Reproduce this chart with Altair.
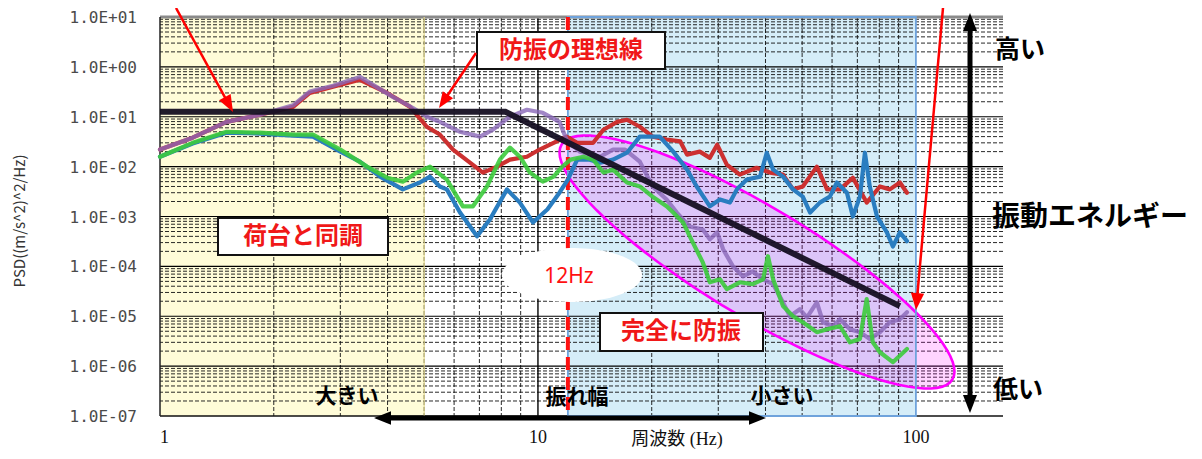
import altair as alt
import pandas as pd
import numpy as np

# ---------------- data ----------------
red_f = [1, 1.22, 1.50, 1.84, 2.25, 2.49, 2.87, 3.38, 3.99, 4.59,
         5.08, 5.5, 5.96, 6.61, 7.15, 7.79, 8.43, 9.35, 10.1, 11.0,
         11.9, 12.7, 14.0, 14.9, 16.2, 17.2, 18.6, 20.1, 21.9, 23.8,
         24.8, 26.8, 28.5, 29.8, 31.6, 34.2, 37.9, 41.1, 44.5, 47.3,
         50.2, 54.7, 58.2, 63.0, 68.1, 74.1, 80.3, 85.3, 90.7, 94.7]
red_p = [0.022, 0.038, 0.079, 0.11, 0.158, 0.30, 0.40, 0.55, 0.30, 0.158,
         0.063, 0.044, 0.022, 0.012, 0.0076, 0.010, 0.0138, 0.0158, 0.022, 0.030,
         0.040, 0.030, 0.030, 0.055, 0.079, 0.087, 0.063, 0.040, 0.035, 0.032,
         0.0174, 0.020, 0.015, 0.0275, 0.011, 0.0069, 0.0095, 0.0076, 0.0069, 0.0035,
         0.0040, 0.010, 0.0035, 0.0035, 0.0060, 0.0019, 0.0040, 0.0035, 0.0048, 0.0030]

purple_f = [1, 1.22, 1.50, 1.84, 2.25, 2.49, 2.87, 3.38, 4.13, 4.67,
            5.08, 5.5, 6.22, 7.03, 7.60, 8.43, 9.35, 10.3, 11.4, 11.9,
            12.9, 14.6, 15.8, 17.0, 18.6, 20.1, 21.9, 23.3, 25.2, 27.3,
            28.5, 29.8, 30.9, 32.8, 34.9, 37.0, 39.4, 41.9, 44.5, 46.4,
            49.3, 51.5, 54.7, 56.8, 60.3, 63.0, 66.9, 71.1, 75.5, 80.3,
            85.3, 90.7, 94.7]
purple_p = [0.022, 0.038, 0.079, 0.11, 0.17, 0.32, 0.42, 0.63, 0.25, 0.15,
            0.10, 0.079, 0.050, 0.040, 0.055, 0.10, 0.138, 0.12, 0.079, 0.035,
            0.020, 0.0158, 0.022, 0.022, 0.0126, 0.0040, 0.0022, 0.0012, 6.3e-4, 5.5e-4,
            3.5e-4, 4.8e-4, 2.2e-4, 1.0e-4, 6.3e-5, 7.9e-5, 5.5e-5, 4.4e-5, 1.9e-5, 1.0e-5,
            1.38e-5, 9.5e-6, 1.9e-5, 7.6e-6, 6.3e-6, 8.7e-6, 5.5e-6, 4.8e-6, 3.5e-6, 4.8e-6,
            7.6e-6, 8.7e-6, 1.2e-5]

green_f = [1, 1.22, 1.50, 1.84, 2.25, 2.54, 3.0, 3.53, 3.99, 4.39,
           4.78, 5.18, 5.74, 6.33, 6.73, 7.33, 7.93, 8.43, 8.96, 9.52,
           10.3, 11.0, 11.6, 12.2, 13.2, 14.0, 14.9, 15.8, 17.2, 18.6,
           20.1, 21.9, 22.8, 24.2, 25.7, 27.3, 28.5, 30.3, 31.6, 34.2,
           37.0, 39.4, 40.6, 41.9, 44.5, 47.3, 50.2, 54.7, 58.2, 63.0,
           66.9, 71.1, 74.1, 76.9, 80.3, 86.9, 94.7]
green_p = [0.0158, 0.030, 0.050, 0.048, 0.044, 0.044, 0.022, 0.010, 0.0060, 0.0050,
           0.0076, 0.010, 0.0055, 0.0016, 0.0016, 0.0040, 0.0138, 0.024, 0.0158, 0.0076,
           0.0050, 0.0063, 0.010, 0.0138, 0.0158, 0.0138, 0.0076, 0.0087, 0.0048, 0.0040,
           0.0025, 0.0016, 0.0012, 7.6e-4, 3.0e-4, 1.2e-4, 4.8e-5, 5.5e-5, 3.5e-5, 4.8e-5,
           4.4e-5, 5.5e-5, 1.6e-4, 5.5e-5, 1.6e-5, 1.0e-5, 7.6e-6, 4.8e-6, 5.5e-6, 6.3e-6,
           3.0e-6, 3.5e-6, 2.2e-5, 3.0e-6, 1.9e-6, 1.2e-6, 2.2e-6]

blue_f = [1, 1.22, 1.50, 1.84, 2.25, 2.54, 3.0, 3.38, 3.82, 4.39,
          4.87, 5.18, 5.5, 5.74, 6.22, 6.90, 7.46, 8.28, 8.96, 9.70,
          10.6, 11.4, 12.0, 12.7, 13.7, 14.6, 15.8, 17.2, 18.6, 20.1,
          21.0, 22.8, 24.8, 26.3, 28.5, 30.3, 32.2, 33.6, 35.7, 38.7,
          40.3, 41.9, 44.5, 47.3, 50.2, 52.5, 55.7, 59.2, 61.8, 65.7,
          68.1, 71.1, 73.3, 75.5, 78.9, 83.8, 86.9, 90.7, 94.7]
blue_p = [0.0158, 0.029, 0.048, 0.046, 0.042, 0.040, 0.020, 0.0126, 0.0063, 0.0035,
          0.0048, 0.0063, 0.0040, 0.0035, 0.0012, 4.0e-4, 8.7e-4, 0.0035, 0.0019, 7.6e-4,
          0.0014, 0.0030, 0.0055, 0.0138, 0.0138, 0.012, 0.0138, 0.019, 0.040, 0.040,
          0.040, 0.020, 0.0087, 0.0040, 0.0016, 0.0022, 0.0019, 0.0035, 0.0055, 0.0063,
          0.019, 0.0087, 0.0063, 0.0035, 0.0025, 0.0012, 0.0019, 0.0025, 0.0048, 0.0030,
          0.0010, 0.0025, 0.019, 0.0040, 0.0010, 4.8e-4, 2.5e-4, 4.8e-4, 3.2e-4]

ideal_f = [1, 8.2, 90.7]          # 防振の理想線
ideal_p = [0.126, 0.126, 1.6e-5]

zone_yellow = [1, 5]              # 荷台と同調
zone_blue = [12, 100]             # 防振域
cutoff_f = [12]                   # 12Hz

x_ticks = [1, 10, 100]
x_tick_labels = ["1", "10", "100"]
y_ticks = [1e-7, 1e-6, 1e-5, 1e-4, 1e-3, 1e-2, 1e-1, 1e0, 1e1]
y_tick_labels = ["1.0E-07", "1.0E-06", "1.0E-05", "1.0E-04", "1.0E-03",
                 "1.0E-02", "1.0E-01", "1.0E+00", "1.0E+01"]
y_minor = [m * 10.0 ** k for k in range(-7, 1) for m in range(2, 10)]
y_major = [10.0 ** k for k in range(-6, 1)]
x_minor = [m * 10.0 ** k for k in range(0, 2) for m in range(2, 10)]
x_major = [10]
x_title = "周波数 (Hz)"
y_title = "PSD((m/s^2)^2/Hz)"

# ---------------- scales / layout ----------------
W, H = 843, 399
X_DOM, Y_DOM = [1, 170], [1e-7, 10]
XS = alt.Scale(type="log", domain=X_DOM, nice=False)
YS = alt.Scale(type="log", domain=Y_DOM, nice=False)
JP = "Noto Sans CJK JP"

# annotation placement: page pixel -> data coordinates (inverse of the log scales)
def fx(X):
    lo, hi = np.log10(X_DOM)
    return float(10 ** (lo + (X - 160) / W * (hi - lo)))

def fy(Y):
    lo, hi = np.log10(Y_DOM)
    return float(10 ** (hi - (Y - 17) / H * (hi - lo)))

def line_df(f, p):
    return pd.DataFrame({"f": f, "psd": p})

def pos():
    return dict(x=alt.X("x:Q", scale=XS, axis=None), y=alt.Y("y:Q", scale=YS, axis=None))

# backgrounds
bg = alt.Chart(pd.DataFrame({
    "a": [zone_yellow[0], zone_blue[0]], "b": [zone_yellow[1], zone_blue[1]],
    "lo": [Y_DOM[0]] * 2, "hi": [Y_DOM[1]] * 2, "c": ["#FFFCD8", "#D5EDF8"]})
).mark_rect(strokeWidth=0).encode(
    x=alt.X("a:Q", scale=XS, axis=None), x2="b:Q",
    y=alt.Y("lo:Q", scale=YS, axis=None), y2="hi:Q",
    fill=alt.Fill("c:N", scale=None))

def hrules(vals, **kw):
    return alt.Chart(pd.DataFrame({"v": vals})).mark_rule(**kw).encode(
        y=alt.Y("v:Q", scale=YS, axis=None))

def vrules(vals, **kw):
    return alt.Chart(pd.DataFrame({"v": vals})).mark_rule(**kw).encode(
        x=alt.X("v:Q", scale=XS, axis=None))

grid = [
    hrules(y_minor, color="#111", strokeWidth=0.9, strokeDash=[4, 2]),
    vrules(x_minor, color="#111", strokeWidth=0.9, strokeDash=[4, 2]),
    hrules(y_major, color="#000", strokeWidth=1.2),
    vrules(x_major, color="#000", strokeWidth=1.4),
    hrules([Y_DOM[1]], color="#8a8a8a", strokeWidth=3),
    hrules([Y_DOM[0]], color="#111", strokeWidth=1.5),
    vrules([X_DOM[0]], color="#222", strokeWidth=1.5),
]

# tick labels and axis titles (drawn as text through the same scales)
ylab = alt.Chart(pd.DataFrame({"v": y_ticks, "t": y_tick_labels, "x": [X_DOM[0]] * len(y_ticks)})
).mark_text(font="DejaVu Sans Mono", fontSize=16, color="#4a4a4a", align="right",
            baseline="middle", dx=-23, dy=1).encode(
    x=alt.X("x:Q", scale=XS, axis=None), y=alt.Y("v:Q", scale=YS, axis=None), text="t:N")
xlab_first = alt.Chart(pd.DataFrame({"v": x_ticks[:1], "t": x_tick_labels[:1], "y": [Y_DOM[0]]})
).mark_text(font="Liberation Serif", fontSize=18, color="#111", align="left",
            baseline="middle", dy=22).encode(
    x=alt.X("v:Q", scale=XS, axis=None), y=alt.Y("y:Q", scale=YS, axis=None), text="t:N")
xlab_rest = alt.Chart(pd.DataFrame({"v": x_ticks[1:], "t": x_tick_labels[1:], "y": [Y_DOM[0]] * 2})
).mark_text(font="Liberation Serif", fontSize=18, color="#111", align="center",
            baseline="middle", dy=22).encode(
    x=alt.X("v:Q", scale=XS, axis=None), y=alt.Y("y:Q", scale=YS, axis=None), text="t:N")
xtitle = alt.Chart(pd.DataFrame({"x": [fx(677)], "y": [fy(440)], "t": [x_title]})).mark_text(
    font="Liberation Serif, Noto Sans CJK JP", fontSize=18, color="#111",
    align="center", baseline="middle").encode(text="t:N", **pos())
ytitle = alt.Chart(pd.DataFrame({"x": [fx(20)], "y": [fy(221)], "t": [y_title]})).mark_text(
    font=JP, fontSize=15, color="#333", align="center", baseline="middle", angle=270
).encode(text="t:N", **pos())

yellow_edge = vrules([zone_yellow[1]], color="#E2D890", strokeWidth=1.2)
blue_box = alt.Chart(pd.DataFrame({"a": [zone_blue[0]], "b": [zone_blue[1]],
                                   "lo": [Y_DOM[0]], "hi": [Y_DOM[1]]})).mark_rect(
    fill=None, stroke="#6FA3DC", strokeWidth=1.8).encode(
    x=alt.X("a:Q", scale=XS, axis=None), x2="b:Q",
    y=alt.Y("lo:Q", scale=YS, axis=None), y2="hi:Q")

def ellipse_path(ratio, n=90):
    t = np.linspace(0, 2 * np.pi, n, endpoint=False)
    pts = ["%.4f %.4f" % (np.cos(a), ratio * np.sin(a)) for a in t]
    return "M " + " L ".join(pts) + " Z"

magenta = alt.Chart(pd.DataFrame({"x": [fx(757)], "y": [fy(262)]})).mark_point(
    shape=ellipse_path(55 / 228), size=456 ** 2, angle=31, filled=True,
    fill="#FF00FF", fillOpacity=0.17, stroke="#FF00FF", strokeWidth=2.6, opacity=1
).encode(**pos())

cut_line = vrules(cutoff_f, color="#FF1010", strokeWidth=4, strokeDash=[13, 7])

hz_ell = alt.Chart(pd.DataFrame({"x": [fx(572)], "y": [fy(275)]})).mark_point(
    shape=ellipse_path(27 / 70), size=140 ** 2, filled=True, fill="white",
    strokeWidth=0, opacity=1
).encode(**pos())
hz_txt = alt.Chart(pd.DataFrame({"x": [fx(569)], "y": [fy(277)], "t": ["12Hz"]})).mark_text(
    font="Noto Sans", fontSize=21, color="#FF1010", baseline="middle", align="center"
).encode(text="t:N", **pos())

def series(f, p, color, op=1.0):
    return alt.Chart(line_df(f, p)).mark_line(
        color=color, strokeWidth=4.2, opacity=op, strokeCap="round", strokeJoin="round"
    ).encode(x=alt.X("f:Q", scale=XS, axis=None), y=alt.Y("psd:Q", scale=YS, axis=None))

red = series(red_f, red_p, "#CC3030")
purple = series(purple_f, purple_p, "#8A68B8", op=0.8)
blue = series(blue_f, blue_p, "#2A7DC0")
green = series(green_f, green_p, "#3CCB3C", op=0.9)

ideal = alt.Chart(line_df(ideal_f, ideal_p)).mark_line(
    color="#150F22", strokeWidth=6, opacity=0.95
).encode(x=alt.X("f:Q", scale=XS, axis=None), y=alt.Y("psd:Q", scale=YS, axis=None))

# text boxes
boxes = alt.Chart(pd.DataFrame({
    "x": [fx(477), fx(218), fx(600)], "x2": [fx(665), fx(388), fx(763)],
    "y": [fy(32), fy(218), fy(313)], "y2": [fy(69), fy(255), fy(351)]})
).mark_rect(fill="white", stroke="#111", strokeWidth=2).encode(
    x=alt.X("x:Q", scale=XS, axis=None), x2="x2:Q",
    y=alt.Y("y:Q", scale=YS, axis=None), y2="y2:Q")
box_txt = alt.Chart(pd.DataFrame({
    "x": [fx(571), fx(303), fx(681)], "y": [fy(51), fy(237), fy(332)],
    "t": ["防振の理想線", "荷台と同調", "完全に防振"]})
).mark_text(font=JP, fontSize=24, fontWeight="bold", color="#F01818",
            baseline="middle", align="center").encode(text="t:N", **pos())

side_txt = alt.Chart(pd.DataFrame({
    "x": [fx(1020), fx(1018), fx(1090), fx(347), fx(577), fx(782)],
    "y": [fy(50), fy(390), fy(218), fy(397), fy(398), fy(397)],
    "s": [25, 25, 28, 21, 21, 21],
    "t": ["高い", "低い", "振動エネルギー", "大きい", "振れ幅", "小さい"]})
).mark_text(font=JP, fontWeight="bold", color="#000", baseline="middle", align="center").encode(
    text="t:N", size=alt.Size("s:Q", scale=None), **pos())

# arrows: tail (page px) -> tip (page px)
arrows = [
    (176, 8, 233, 112, "#FF0000", 2.5, 17, False),
    (476, 53, 439, 108, "#FF0000", 2.5, 16, False),
    (943, 8, 916, 310, "#FF0000", 2.5, 17, False),
    (970, 13, 970, 413, "#000000", 5, 18, True),
    (374, 418, 766, 418, "#000000", 5, 17, True),
]
seg_rows, head_rows = [], []
for x1, y1, x2, y2, c, w, L, dbl in arrows:
    d = np.array([x2 - x1, y2 - y1], float)
    d /= np.linalg.norm(d)
    ex, ey = x2 - d[0] * L * 0.7, y2 - d[1] * L * 0.7
    sx, sy = x1, y1
    ang = (np.degrees(np.arctan2(d[0], -d[1])) + 360) % 360
    head_rows.append({"x": fx(x2 - d[0] * L / 2), "y": fy(y2 - d[1] * L / 2),
                      "a": ang, "s": L * L, "c": c})
    if dbl:
        sx, sy = x1 + d[0] * L * 0.7, y1 + d[1] * L * 0.7
        head_rows.append({"x": fx(x1 + d[0] * L / 2), "y": fy(y1 + d[1] * L / 2),
                          "a": (ang + 180) % 360, "s": L * L, "c": c})
    seg_rows.append({"x": fx(sx), "y": fy(sy), "x2": fx(ex), "y2": fy(ey), "c": c, "w": w})

segs = alt.Chart(pd.DataFrame(seg_rows)).mark_rule(strokeCap="butt").encode(
    x=alt.X("x:Q", scale=XS, axis=None), y=alt.Y("y:Q", scale=YS, axis=None),
    x2="x2:Q", y2="y2:Q",
    color=alt.Color("c:N", scale=None), strokeWidth=alt.StrokeWidth("w:Q", scale=None))
heads = alt.Chart(pd.DataFrame(head_rows)).mark_point(
    shape="M 0 -1 L 0.78 1 L -0.78 1 Z", filled=True, opacity=1, strokeWidth=0
).encode(angle=alt.Angle("a:Q", scale=None), size=alt.Size("s:Q", scale=None),
         color=alt.Color("c:N", scale=None), **pos())

chart = alt.layer(
    bg, *grid, yellow_edge, magenta, blue_box, cut_line, hz_ell, hz_txt,
    red, purple, blue, green, ideal, boxes, box_txt, side_txt, segs, heads,
    ylab, xlab_first, xlab_rest, xtitle, ytitle
).properties(
    width=W, height=H,
    padding={"left": 152, "top": 9, "right": 191, "bottom": 35},
    autosize=alt.AutoSizeParams(type="none"),
    background="white",
).configure_view(strokeWidth=0)

chart.save("out.html", embed_options={"renderer": "svg", "actions": False})
